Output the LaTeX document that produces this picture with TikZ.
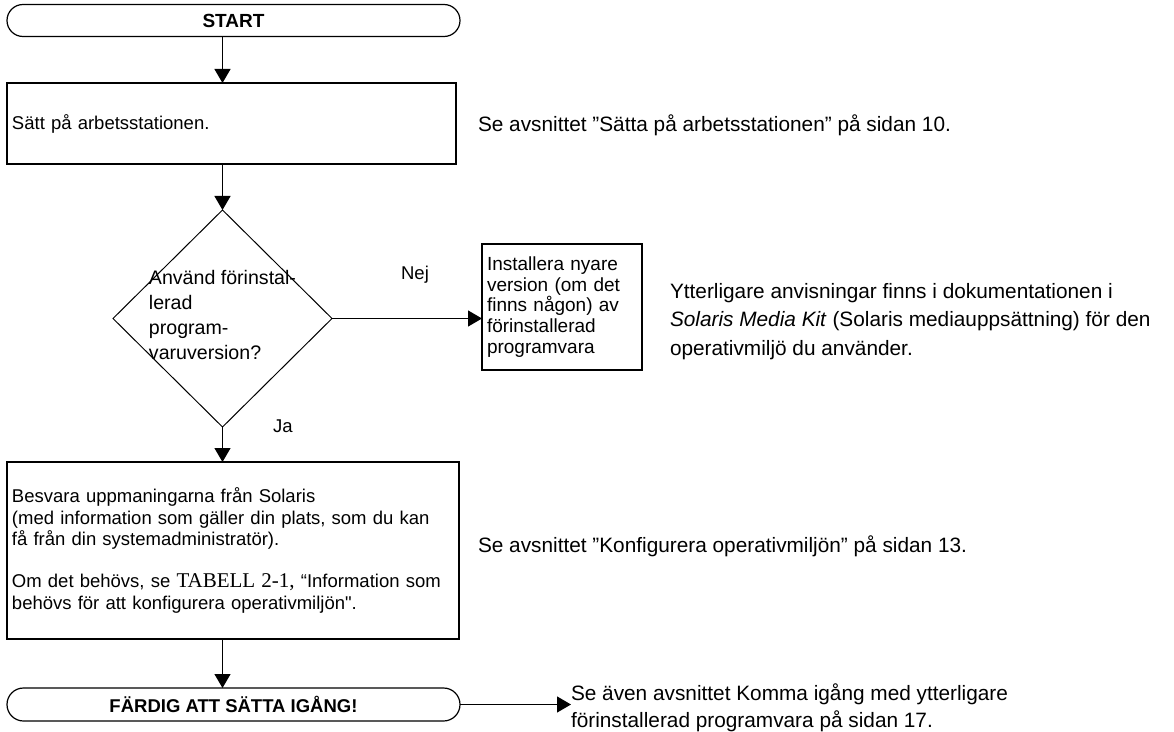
\documentclass[tikz,border=0pt]{standalone}
\usepackage{fontspec}
\setmainfont{Liberation Sans}
\newfontfamily\tabfont{Liberation Serif}
\usetikzlibrary{shapes.geometric,shapes.misc,arrows.meta}

\begin{document}
\begin{tikzpicture}[x=1bp,y=-1bp,
	every node/.style={inner sep=0pt, outer sep=0pt},
	ends/.style={rounded rectangle, draw, line width=1.2bp, minimum width=453bp, minimum height=32bp, font=\fontsize{19bp}{22bp}\selectfont\bfseries},
	stepbox/.style={rectangle, draw, line width=2.5bp, align=left, inner sep=5bp, font=\fontsize{18.5bp}{21.3bp}\selectfont},
	decision/.style={diamond, draw, line width=1bp, minimum width=219bp, minimum height=217bp},
	note/.style={anchor=west, align=left, font=\fontsize{20.8bp}{28.5bp}\selectfont},
	lbl/.style={font=\fontsize{18.5bp}{21bp}\selectfont},
	arr/.style={-{Triangle[length=14bp,width=16bp]}, line width=1.2bp}]
	\useasboundingbox (0,0) rectangle (1174,732);
	% flow column
	\node[ends] (start) at (233.5,20.5) {START};
	\node[stepbox, minimum width=449bp, minimum height=81bp, text width=439bp] (power) at (231.5,123.5) {Sätt på arbetsstationen.};
	\node[decision] (choice) at (222.5,318.5) {};
	\node[lbl, align=left, font=\fontsize{19.6bp}{24.7bp}\selectfont] (choicetext) at ([yshift=3.5bp]choice.center) {Använd förinstal-\\lerad\\program-\\varuversion?};
	\node[stepbox, minimum width=160bp, minimum height=126bp, text width=150bp, font=\fontsize{19bp}{20.6bp}\selectfont] (install) at (562,307) {Installera nyare\\version (om det\\finns någon) av\\förinstallerad\\programvara};
	\node[stepbox, minimum width=452bp, minimum height=177bp, text width=442bp] (answer) at (233,550.5) {Besvara uppmaningarna från Solaris\\(med information som gäller din plats, som du kan\\få från din systemadministratör).\\[21.3bp]Om det behövs, se {\tabfont\fontsize{21bp}{21.3bp}\selectfont TABELL 2-1,} “Information som\\behövs för att konfigurera operativmiljön\textquotedbl.};
	\node[ends, minimum height=33bp, font=\fontsize{18.5bp}{21bp}\selectfont\bfseries] (ready) at (233.5,704.5) {FÄRDIG ATT SÄTTA IGÅNG!};
	% notes on the right
	\node[note] (seepower) at (478,125) {Se avsnittet ”Sätta på arbetsstationen” på sidan 10.};
	\node[note] (seemedia) at (670,321.5) {Ytterligare anvisningar finns i dokumentationen i\\\textit{Solaris Media Kit} (Solaris mediauppsättning) för den\\operativmiljö du använder.};
	\node[note] (seeconfig) at (478,546) {Se avsnittet ”Konfigurera operativmiljön” på sidan 13.};
	\node[note, font=\fontsize{20.8bp}{27bp}\selectfont] (seestart) at (571,708) {Se även avsnittet Komma igång med ytterligare\\förinstallerad programvara på sidan 17.};
	\node[lbl] (nej) at (415,275) {Nej};
	\node[lbl] (ja) at (283,426) {Ja};
	% connectors
	\draw[arr] (start.south -| choice.north) -- (power.north -| choice.north);
	\draw[arr] (power.south -| choice.north) -- (choice.north);
	\draw[arr] (choice.east) -- (choice.east -| install.west);
	\draw[arr] (choice.south) -- (answer.north -| choice.south);
	\draw[arr] (answer.south -| choice.south) -- (ready.north -| choice.south);
	\draw[arr] (ready.east) -- (ready.east -| seestart.west);
\end{tikzpicture}
\end{document}
